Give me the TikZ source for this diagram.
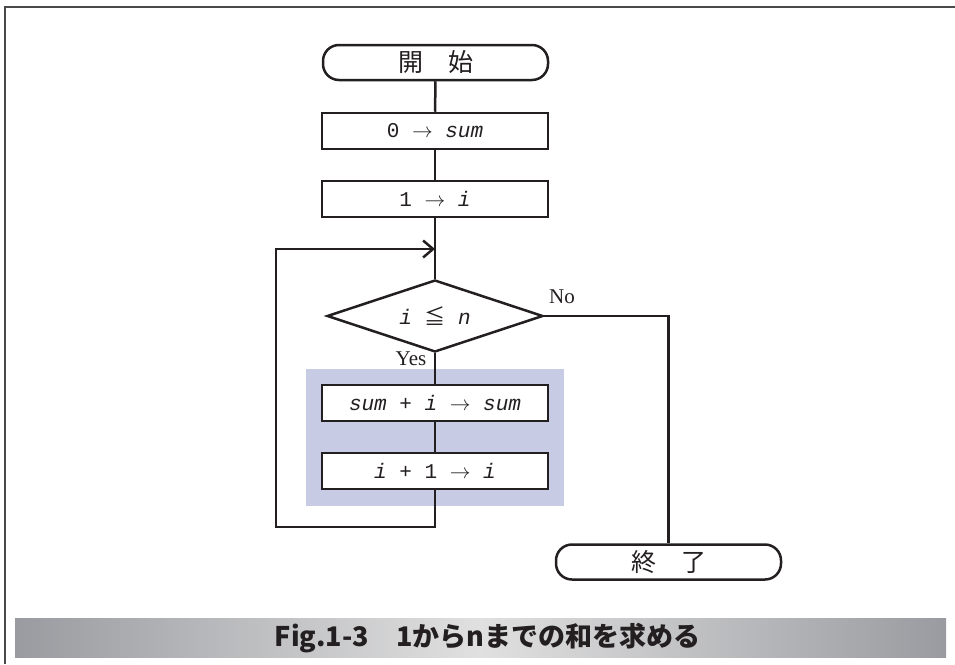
\documentclass[tikz,border=0pt]{standalone}
\usepackage{fontspec}
\newfontfamily\cjk{Noto Sans CJK JP}
\newfontfamily\mono{Liberation Mono}
\newfontfamily\tnr{Liberation Serif}
\usetikzlibrary{shapes.geometric,arrows.meta}
\definecolor{ink}{HTML}{231F20}
\definecolor{hl}{HTML}{C7CBE4}
\definecolor{framec}{HTML}{4A4A4A}
\definecolor{capdark}{HTML}{9A9BA0}
\definecolor{caplight}{HTML}{E0E0E0}
\begin{document}
\begin{tikzpicture}[x=1pt,y=-1pt,
  conn/.style={draw=ink, line width=2.5pt},
  procbox/.style={draw=ink, line width=2.5pt, fill=white, minimum width=226pt,
    minimum height=36pt, inner sep=0pt, text=ink, font=\mono\fontsize{21}{24}\selectfont},
  termbox/.style={procbox, rounded corners=16pt, minimum width=225pt, minimum height=35pt,
    font=\cjk\fontsize{25}{30}\selectfont},
  decbox/.style={diamond, aspect=3, draw=ink, line width=2.5pt, fill=white, minimum width=216pt,
    minimum height=72pt, inner sep=0pt, text=ink, font=\mono\fontsize{21}{24}\selectfont},
  lbl/.style={text=ink, inner sep=0pt, font=\tnr\fontsize{21}{24}\selectfont},
  framel/.style={draw=framec, line width=2pt}]
\useasboundingbox (0,0) rectangle (955,664);

% frame
\coordinate (f1) at (5,664);
\coordinate (f2) at (5,6.5);
\coordinate (f3) at (955,6.5);
\draw[framel] (f1) -- (f2) -- (f3);

% highlight
\node[fill=hl, minimum width=258pt, minimum height=137pt, inner sep=0pt] (hlbox) at (435,437.5) {};

% nodes
\node[termbox] (start) at (435.5,62.5) {開　始};
\node[procbox] (b1) at (435,131) {0 $\rightarrow$ \textit{sum}};
\node[procbox] (b2) at (435,199) {1 $\rightarrow$ \textit{i}};
\node[decbox] (dec) at (435,316) {\textit{i} {\cjk ≦} \textit{n}};
\node[procbox] (b3) at (435,403) {\textit{sum} + \textit{i} $\rightarrow$ \textit{sum}};
\node[procbox] (b4) at (435,471) {\textit{i} + 1 $\rightarrow$ \textit{i}};
\node[termbox] (fin) at (668.5,562) {終　了};

\node[lbl] (no) at (562,297) {No};
\node[lbl] (yes) at (411,359) {Yes};

% connectors
\draw[conn] (start) -- (b1);
\draw[conn] (b1) -- (b2);
\draw[conn] (b2) -- (dec.north);
\draw[conn] (dec.south) -- (b3);
\draw[conn] (b3) -- (b4);
\coordinate (lb) at (276,527);
\coordinate (lt) at (276,249);
\coordinate (jn) at (435,249);
\draw[conn, -{Straight Barb[length=10pt,width=17pt]}] (b4.south) |- (lb) -- (lt) -- (jn);
\draw[conn] (dec.east) -| (fin.north);

% caption
\shade[left color=capdark, right color=capdark, middle color=caplight] (15,618) rectangle (946,657);
\node[text=ink, inner sep=0pt, font=\cjk\bfseries\fontsize{27}{30}\selectfont] (cap) at (487.5,638)
  {Fig.1-3　1からnまでの和を求める};
\end{tikzpicture}
\end{document}
